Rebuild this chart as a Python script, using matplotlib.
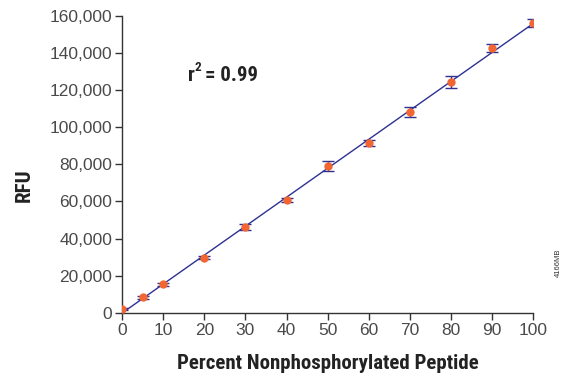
import matplotlib
matplotlib.use("Agg")
import matplotlib.pyplot as plt
import numpy as np

# percent nonphosphorylated peptide vs RFU
percent = [0, 5, 10, 20, 30, 40, 50, 60, 70, 80, 90, 100]
rfu = [2000, 8300, 15300, 29700, 46200, 60900, 79100, 91300, 108400, 124400, 142500, 156000]
rfu_err = [500, 700, 700, 900, 1500, 1000, 2500, 1600, 2700, 3400, 2150, 2150]

yticks = [0, 20000, 40000, 60000, 80000, 100000, 120000, 140000, 160000]
xticks = [0, 10, 20, 30, 40, 50, 60, 70, 80, 90, 100]

blue = "#2e3192"
orange = "#f26632"
tickfont = "Liberation Sans"
labelfont = ["Liberation Sans Narrow", "Roboto Condensed", "DejaVu Sans"]

fig = plt.figure(figsize=(5.61, 3.83), dpi=100)
ax = fig.add_axes([0.2175, 0.183, 0.733, 0.776])

# linear fit
slope, intercept = np.polyfit(percent, rfu, 1)
fitx = np.array([0, 100])
ax.plot(fitx, slope * fitx + intercept, color=blue, lw=1.0, zorder=2)

ax.errorbar(percent, rfu, yerr=rfu_err, fmt="none", ecolor=blue, elinewidth=1.0,
            capsize=4, capthick=1.0, zorder=3)
ax.plot(percent, rfu, "o", color=orange, ms=5, mec=orange, zorder=4)

ax.set_xlim(0, 100)
ax.set_ylim(0, 160000)
ax.set_xticks(xticks)
ax.set_yticks(yticks)
ax.set_yticklabels([f"{v:,}" for v in yticks])

for s in ["top", "right"]:
    ax.spines[s].set_visible(False)
for s in ["left", "bottom"]:
    ax.spines[s].set_color("#333333")
    ax.spines[s].set_linewidth(1.0)
ax.tick_params(direction="out", length=5, width=1.0, color="#333333",
               labelsize=12.5, labelcolor="#4a4a4a", pad=2)
for lab in ax.get_xticklabels() + ax.get_yticklabels():
    lab.set_family(tickfont)

ax.set_xlabel("Percent Nonphosphorylated Peptide", family=labelfont,
              fontweight="bold", fontsize=15, color="#222222", labelpad=12)
ax.set_ylabel("RFU", family=labelfont, fontweight="bold", fontsize=15,
              color="#222222")
ax.yaxis.set_label_coords(-0.215, 0.43)

# r squared annotation
ax.text(0.16, 0.80, "r", transform=ax.transAxes, family=labelfont,
        fontweight="bold", fontsize=15, color="#222222", ha="left", va="center")
ax.text(0.177, 0.825, "2", transform=ax.transAxes, family=labelfont,
        fontweight="bold", fontsize=9.5, color="#222222", ha="left", va="center")
ax.text(0.203, 0.80, "= 0.99", transform=ax.transAxes, family=labelfont,
        fontweight="bold", fontsize=15, color="#222222", ha="left", va="center")

fig.text(0.996, 0.313, "4166MB", rotation=90, fontsize=5.5, family="Liberation Sans",
         color="#333333", ha="center", va="center")

fig.savefig("out.png", dpi=100)
